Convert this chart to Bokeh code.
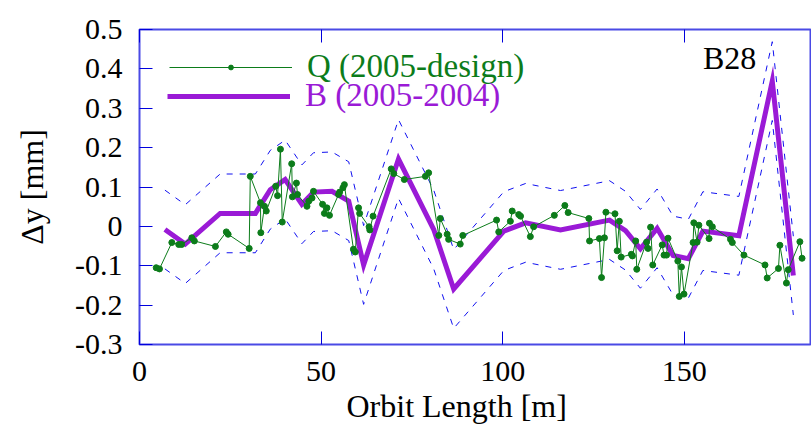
from bokeh.plotting import figure
from bokeh.models import (Legend, LegendItem, Label, LinearAxis, FixedTicker,
                          CustomJSTickFormatter, Title)
from bokeh.embed import file_html
from bokeh.resources import INLINE

# Q: quadrupole vertical offsets, 2005 survey minus design [mm]
q_x = [4.6, 5.5, 8.9, 10.8, 11.6, 14.4, 15.1, 20.9, 23.9, 24.4, 30.2, 30.5,
       33.3, 33.4, 34.4, 34.9, 37.5, 38.0, 38.8, 39.3, 41.9, 42.1, 43.2, 43.5,
       46.1, 46.6, 47.5, 47.9, 50.4, 50.9, 51.6, 52.3, 54.8, 55.1, 56.0, 56.4,
       58.9, 59.4, 60.3, 60.6, 63.2, 63.4, 64.3, 69.3, 70.0, 72.9, 78.7, 79.6,
       82.4, 82.8, 84.7, 85.1, 88.3, 89.0, 98.3, 98.9, 102.1, 102.6, 104.4,
       104.9, 107.6, 108.5, 114.2, 117.1, 118.0, 123.7, 123.9, 126.6, 127.2,
       128.0, 128.4, 130.9, 131.5, 132.1, 132.6, 135.4, 135.7, 136.6, 136.9,
       139.6, 140.0, 140.7, 141.3, 143.9, 144.4, 145.1, 145.5, 148.2, 148.6,
       149.2, 149.9, 152.4, 152.6, 153.5, 154.0, 156.8, 156.9, 157.7, 162.7,
       163.2, 166.4, 172.2, 172.8, 175.9, 176.3, 178.1, 178.6, 181.8, 182.4]
q_y = [-0.105, -0.108, -0.041, -0.046, -0.046, -0.029, -0.037, -0.051, -0.014,
       -0.020, -0.056, 0.127, 0.060, -0.016, 0.051, 0.039, 0.102, 0.078, 0.196,
       0.011, 0.159, 0.075, 0.110, 0.081, 0.051, 0.064, 0.072, 0.089, 0.056,
       0.033, 0.047, 0.028, 0.081, 0.087, 0.098, 0.106, -0.058, -0.065, 0.047,
       0.033, -0.001, -0.009, 0.026, 0.146, 0.134, 0.119, 0.127, 0.136, -0.023,
       0.020, -0.020, -0.033, -0.045, -0.023, 0.016, -0.014, 0.013, 0.039,
       0.030, 0.026, -0.026, -0.001, 0.028, 0.053, 0.035, 0.020, -0.037,
       -0.031, -0.130, -0.029, 0.036, 0.032, -0.062, 0.013, -0.078, -0.071,
       -0.075, -0.037, -0.109, -0.040, -0.056, -0.002, -0.098, -0.047, -0.073,
       -0.073, -0.030, -0.088, -0.178, -0.103, -0.172, -0.041, 0.009, -0.040,
       0.003, -0.031, 0.008, -0.001, -0.033, -0.041, -0.073, -0.098, -0.131,
       -0.107, -0.048, -0.144, -0.110, -0.039, -0.081]

# B: bending magnet vertical change, 2005 minus 2004 [mm], with its error band
b_x = [7.0, 12.6, 22.2, 31.9, 36.0, 40.1, 44.7, 47.9, 53.0, 57.6, 61.7, 71.3,
       81.0, 86.5, 100.3, 106.3, 115.9, 129.4, 133.8, 137.9, 142.5, 146.9,
       151.1, 155.1, 165.0, 174.2, 180.0]
b_y = [-0.008, -0.045, 0.033, 0.033, 0.093, 0.119, 0.056, 0.087, 0.089, 0.064,
       -0.098, 0.171, -0.008, -0.159, -0.012, 0.009, -0.009, 0.016, -0.011,
       -0.057, -0.005, -0.074, -0.082, -0.012, -0.024, 0.369, -0.125]
b_err = [0.10] * len(b_x)

x_ticks = [0, 50, 100, 150]
y_ticks = [-0.3, -0.2, -0.1, 0.0, 0.1, 0.2, 0.3, 0.4, 0.5]

SERIF = "Liberation Serif"
GREEN = "#0c7c1a"
PURPLE = "#9a1ad6"
BLUE = "#1010f0"
FRAME = "#2a2ae0"

p = figure(width=811, height=425, x_range=(0, 185), y_range=(-0.3, 0.5),
           output_backend="svg", toolbar_location=None,
           min_border_left=139, min_border_right=0, min_border_top=29,
           min_border_bottom=79)
p.grid.visible = False
p.background_fill_color = "white"
p.border_fill_color = "white"
p.outline_line_color = FRAME
p.outline_line_width = 2
p.outline_line_alpha = 0.85

# error band around B
upper = [y + e for y, e in zip(b_y, b_err)]
lower = [y - e for y, e in zip(b_y, b_err)]
p.line(b_x, upper, line_color=BLUE, line_width=1, line_dash="6 7")
p.line(b_x, lower, line_color=BLUE, line_width=1, line_dash="6 7")

b_line = p.line(b_x, b_y, line_color=PURPLE, line_width=5,
                line_join="miter")
q_line = p.line(q_x, q_y, line_color=GREEN, line_width=1)
q_pts = p.scatter(q_x, q_y, size=6, fill_color=GREEN, line_color=GREEN)

# axes
xa = p.xaxis[0]
xa.ticker = FixedTicker(ticks=x_ticks)
ya = p.yaxis[0]
ya.ticker = FixedTicker(ticks=y_ticks)
ya.formatter = CustomJSTickFormatter(code="""
    const v = Math.round(tick * 10) / 10;
    return v === 0 ? "0" : v.toFixed(1);
""")
for ax in (xa, ya):
    ax.axis_line_color = None
    ax.major_tick_in = 13
    ax.major_tick_out = 0
    ax.minor_tick_line_color = None
    ax.major_tick_line_color = "#0000dd"
    ax.major_label_text_font = SERIF
    ax.major_label_text_font_size = "30px"
    ax.major_label_text_color = "black"
    ax.major_label_standoff = 17
ya.axis_label = "\u0394y [mm]"
ya.axis_label_text_font = SERIF
ya.axis_label_text_font_size = "32px"
ya.axis_label_text_font_style = "normal"
ya.axis_label_text_color = "black"
ya.axis_label_standoff = 22

top = LinearAxis(ticker=FixedTicker(ticks=x_ticks), axis_line_color=None,
                 major_tick_in=13, major_tick_out=0,
                 major_tick_line_color="#0000dd",
                 minor_tick_line_color=None,
                 major_label_text_font_size="0px", major_label_standoff=0)
p.add_layout(top, "above")

# x-axis title, set a little left of the frame centre
p.add_layout(Title(text="Orbit Length [m]", align="left", offset=207,
                   text_font=SERIF, text_font_size="32px",
                   text_font_style="normal", text_color="black",
                   standoff=4), "below")

p.add_layout(Label(x=155.1, y=0.427, text="B28", text_font=SERIF,
                   text_font_size="32px", text_align="left",
                   text_baseline="middle", text_color="black"))

# two one-row legends so each label keeps its series colour
def make_legend(label, renderers, color, loc, gh, lh):
    return Legend(items=[LegendItem(label=label, renderers=renderers)],
                  location=loc, glyph_width=123, glyph_height=gh,
                  label_height=lh, label_standoff=15, spacing=0, padding=0,
                  margin=0, border_line_color=None, background_fill_alpha=0,
                  label_text_font=SERIF, label_text_font_size="33px",
                  label_text_color=color)

p.add_layout(make_legend("Q (2005-design)", [q_line, q_pts], GREEN,
                         (30, 259), 12, 12))
p.add_layout(make_legend("B (2005-2004)", [b_line], PURPLE,
                         (28, 230), 36, 36))

open("out.html", "w").write(file_html(p, INLINE))
